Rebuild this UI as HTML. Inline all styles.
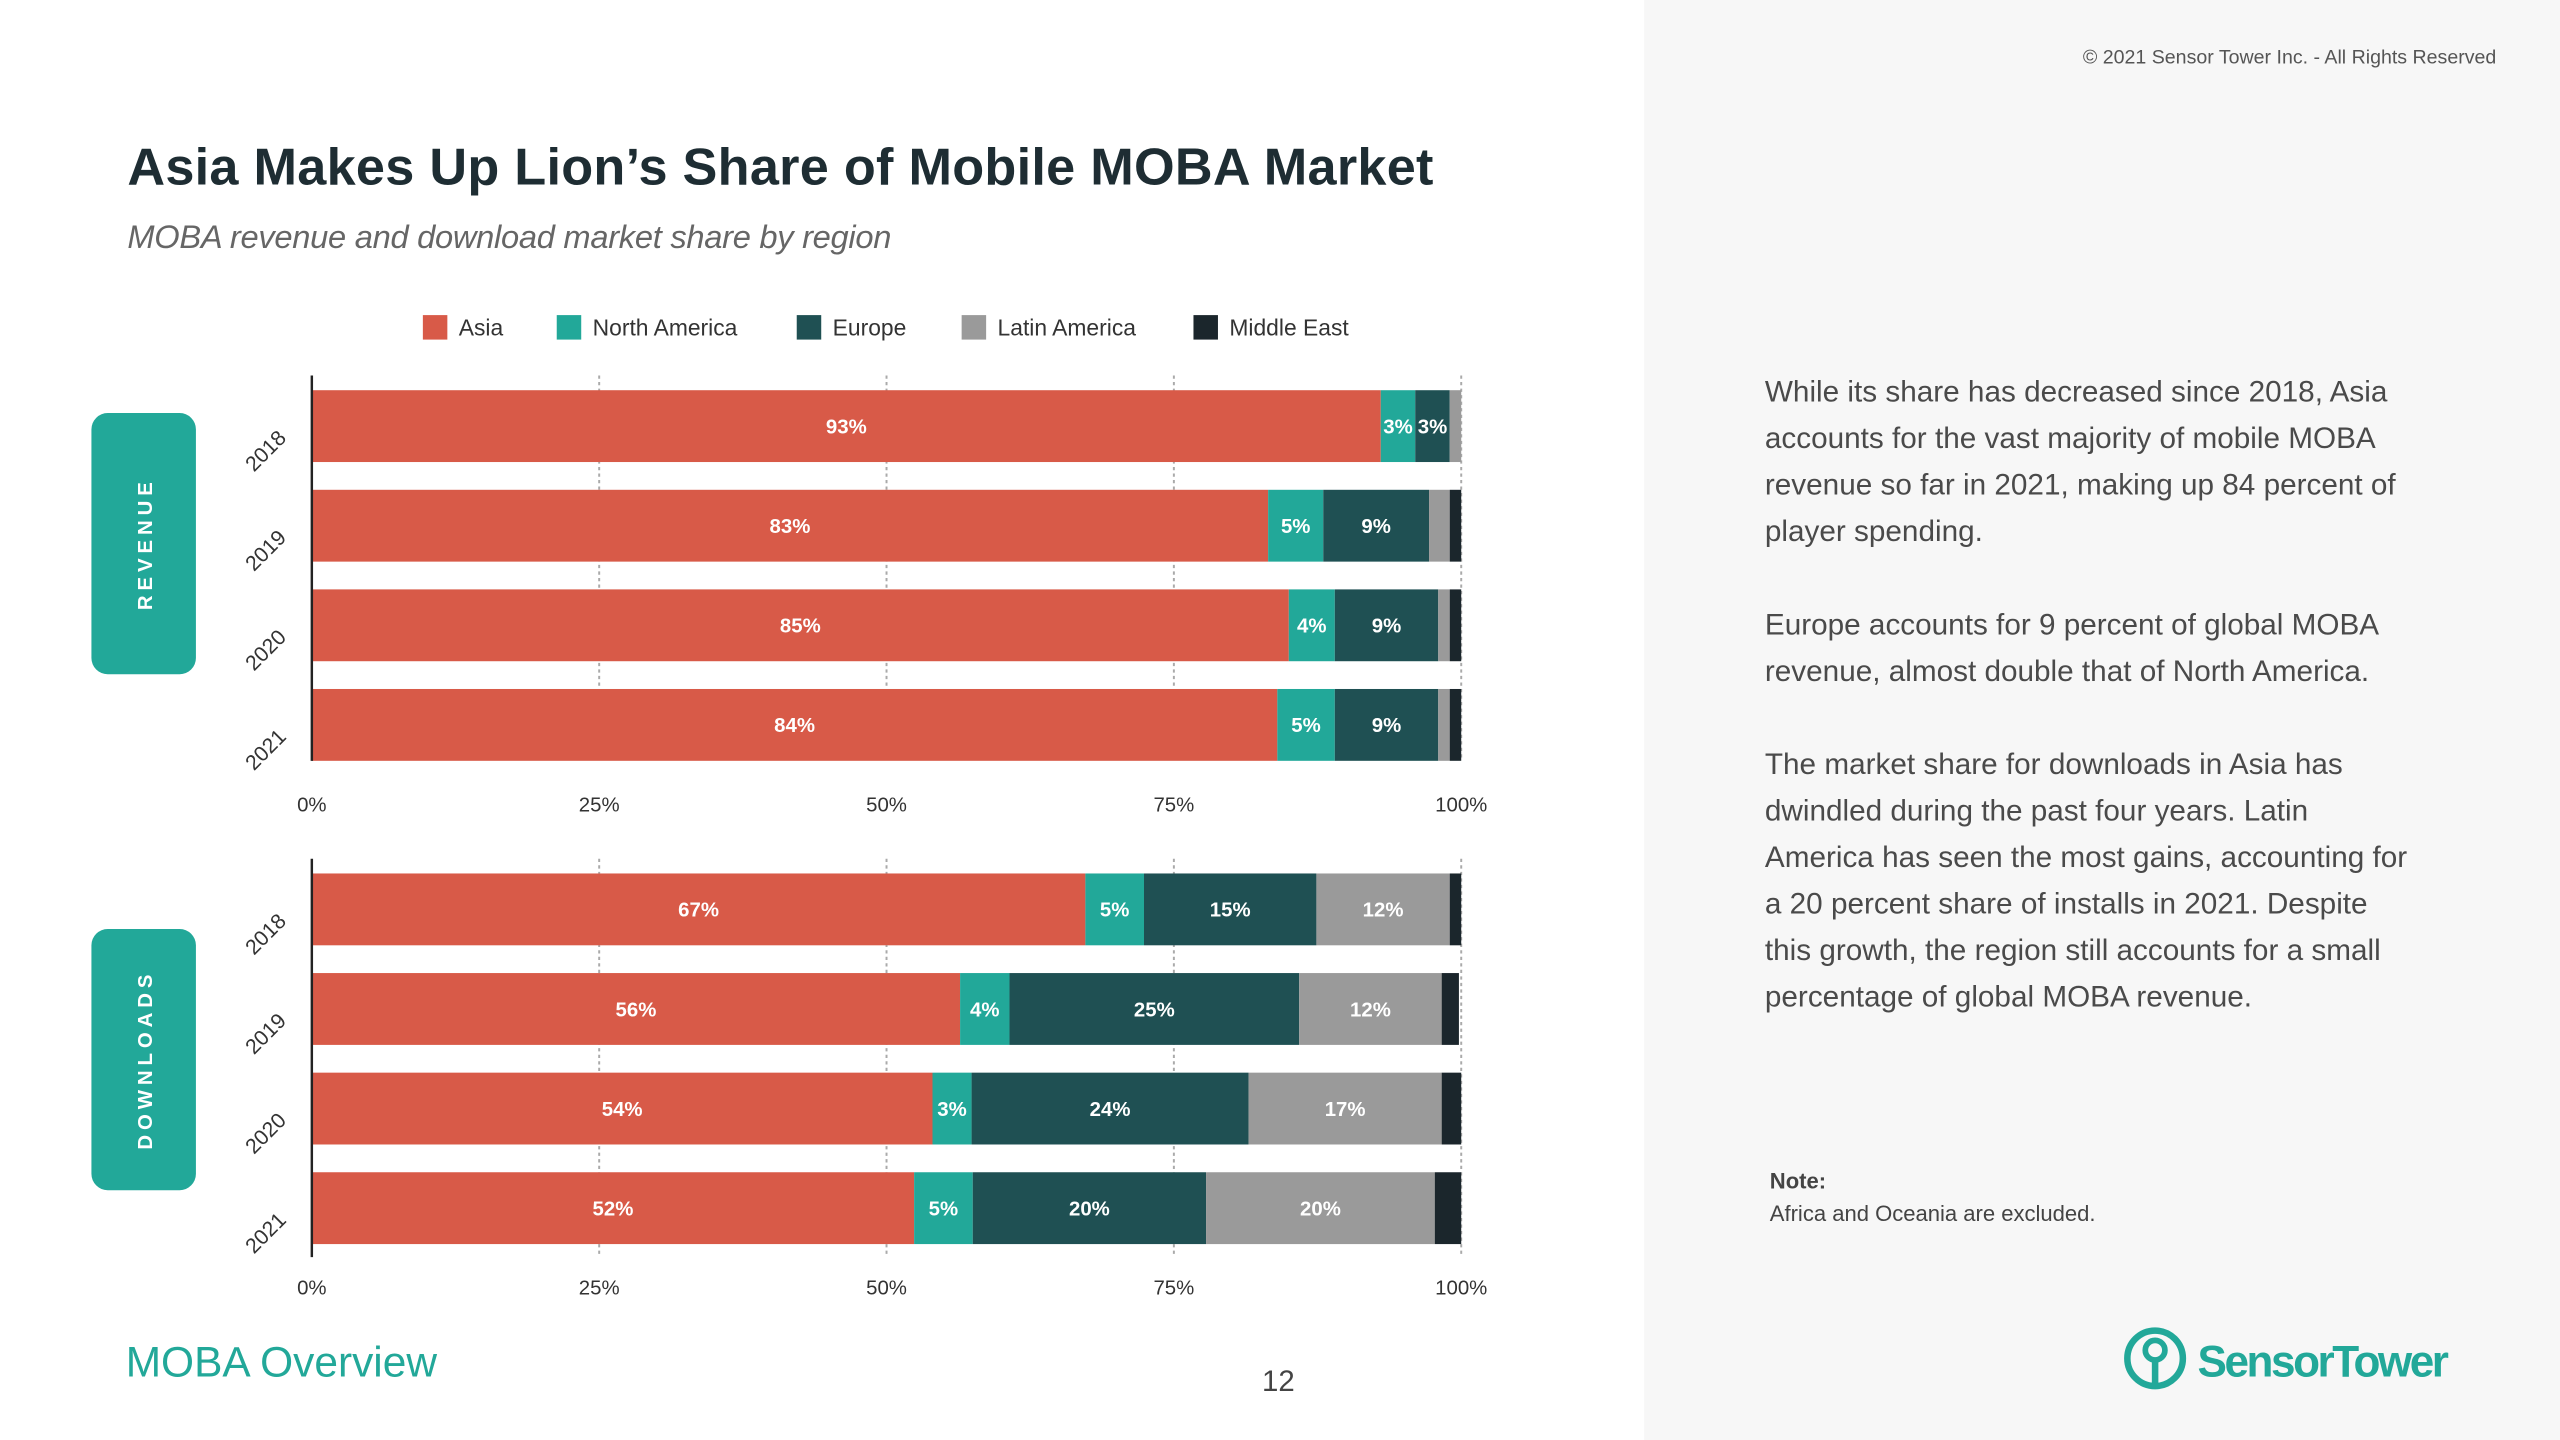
<!DOCTYPE html>
<html><head><meta charset="utf-8">
<style>
html,body{margin:0;padding:0;background:#fff;}
svg{display:block;}
text{font-family:"Liberation Sans",sans-serif;}
</style></head>
<body>
<svg id="root" width="2560" height="1440" viewBox="0 0 1568 882" xmlns="http://www.w3.org/2000/svg">
<rect x="0" y="0" width="1568" height="882" fill="#ffffff"/>
<rect x="1007" y="0" width="561" height="882" fill="#f7f7f7"/>
<text x="1529" y="39" font-size="12" fill="#555" text-anchor="end">© 2021 Sensor Tower Inc. - All Rights Reserved</text>
<text x="78" y="113" font-size="32" font-weight="bold" fill="#1e2d33" textLength="800">Asia Makes Up Lion’s Share of Mobile MOBA Market</text>
<text x="78" y="152" font-size="20" font-style="italic" fill="#666" textLength="468">MOBA revenue and download market share by region</text>
<g id="legend"></g>
<g id="chart"></g>
<g>
<rect x="56" y="253" width="64" height="160" rx="10" fill="#22a899"/>
<text x="93" y="333" font-size="12.5" font-weight="bold" fill="#fff" letter-spacing="3" text-anchor="middle" transform="rotate(-90 93 333)">REVENUE</text>
</g>
<g>
<rect x="56" y="569" width="64" height="160" rx="10" fill="#22a899"/>
<text x="93" y="649" font-size="12.5" font-weight="bold" fill="#fff" letter-spacing="3" text-anchor="middle" transform="rotate(-90 93 649)">DOWNLOADS</text>
</g>
<g font-size="18.2" fill="#4a4a4a">
<text x="1081" y="246">While its share has decreased since 2018, Asia</text>
<text x="1081" y="274.5">accounts for the vast majority of mobile MOBA</text>
<text x="1081" y="303">revenue so far in 2021, making up 84 percent of</text>
<text x="1081" y="331.5">player spending.</text>
<text x="1081" y="388.5">Europe accounts for 9 percent of global MOBA</text>
<text x="1081" y="417">revenue, almost double that of North America.</text>
<text x="1081" y="474">The market share for downloads in Asia has</text>
<text x="1081" y="502.5">dwindled during the past four years. Latin</text>
<text x="1081" y="531">America has seen the most gains, accounting for</text>
<text x="1081" y="559.5">a 20 percent share of installs in 2021. Despite</text>
<text x="1081" y="588">this growth, the region still accounts for a small</text>
<text x="1081" y="616.5">percentage of global MOBA revenue.</text>
</g>
<text x="1084" y="728" font-size="13.5" font-weight="bold" fill="#444">Note:</text>
<text x="1084" y="748" font-size="13.5" fill="#444">Africa and Oceania are excluded.</text>
<text x="77" y="843" font-size="26" fill="#22a899">MOBA Overview</text>
<text x="783" y="852" font-size="18" fill="#444" text-anchor="middle">12</text>
<g>
<circle cx="1320" cy="832" r="17" fill="none" stroke="#22a899" stroke-width="4"/>
<circle cx="1320" cy="827" r="6" fill="none" stroke="#22a899" stroke-width="3.5"/>
<rect x="1318" y="832" width="4" height="17" fill="#22a899"/>
<text x="1346" y="843" font-size="27" font-weight="bold" fill="#22a899" textLength="154">SensorTower</text>
</g>
</svg>
<script>
const years = ["2018","2019","2020","2021"];
const regions = ["Asia","North America","Europe","Latin America","Middle East"];
const colors = ["#d85a48","#22a899","#1f5053","#9a9a9a","#1b262c"];
const revenueAsia = [93, 83.2, 85, 84];
const revenueNA = [3, 4.8, 4, 5];
const revenueEU = [3, 9.2, 9, 9];
const revenueLA = [1, 1.8, 1, 1];
const revenueME = [0, 1, 1, 1];
const downloadsAsia = [67.3, 56.4, 54, 52.4];
const downloadsNA = [5.1, 4.3, 3.4, 5.1];
const downloadsEU = [15, 25.2, 24.1, 20.3];
const downloadsLA = [11.6, 12.4, 16.8, 19.9];
const downloadsME = [1, 1.5, 1.7, 2.3];
const tickValues = [0, 25, 50, 75, 100];
const tickLabels = ["0%","25%","50%","75%","100%"];

const NS = "http://www.w3.org/2000/svg";
function mk(tag, attrs, parent){const e=document.createElementNS(NS,tag);for(const k in attrs)e.setAttribute(k,attrs[k]);parent.appendChild(e);return e;}
const X0=191, X1=895;
function xScale(v){return X0+(X1-X0)*v/100;}

const legend=document.getElementById('legend');
const legX=[259,341,488,589,731];
regions.forEach((r,i)=>{
  const sw=mk('rect',{x:legX[i],y:193,width:15,height:15,fill:colors[i]},legend);
  
  
  const t=mk('text',{x:legX[i]+22,y:205.5,'font-size':14,fill:'#333'},legend);
  t.textContent=r;
  
  
});

const chart=document.getElementById('chart');
function panel(name, series, rowCenters, axTop, axBot, tickY){
  const g=mk('g',{},chart);
  
  
  tickValues.forEach((v,i)=>{
    if(v>0){
      const gl=mk('line',{x1:xScale(v),x2:xScale(v),y1:axTop,y2:axBot,stroke:'#aaa','stroke-width':1.2,'stroke-dasharray':'2,2'},g);
      
      
    }
    const t=mk('text',{x:xScale(v),y:tickY,'font-size':12.5,fill:'#333','text-anchor':'middle'},g);
    t.textContent=tickLabels[i];
    
    
  });
  years.forEach((y,yi)=>{
    const cy=rowCenters[yi];
    let acc=0;
    series.forEach((s,si)=>{
      const v=s[yi];
      const r=mk('rect',{x:xScale(acc),y:cy-22,width:Math.max(0,xScale(acc+v)-xScale(acc)),height:44,fill:colors[si]},g);
      
      
      if(v>=2.5){
        const t=mk('text',{x:(xScale(acc)+xScale(acc+v))/2,y:cy+4.5,'font-size':12.5,'font-weight':'bold',fill:'#fff','text-anchor':'middle'},g);
        t.textContent=Math.round(v)+'%';
        
        
      }
      acc+=v;
    });
    const ly=cy+8;
    const yl=mk('text',{x:176,y:ly,'font-size':13,fill:'#333','text-anchor':'end',transform:'rotate(-45 176 '+ly+')'},g);
    yl.textContent=y;
    
    
  });
  const ax=mk('line',{x1:X0,x2:X0,y1:axTop,y2:axBot,stroke:'#222','stroke-width':1.5},g);
  
  
}
panel('revenue',[revenueAsia,revenueNA,revenueEU,revenueLA,revenueME],[261,322,383,444],230,466,497);
panel('downloads',[downloadsAsia,downloadsNA,downloadsEU,downloadsLA,downloadsME],[557,618,679,740],526,770,793);
</script>
</body></html>
